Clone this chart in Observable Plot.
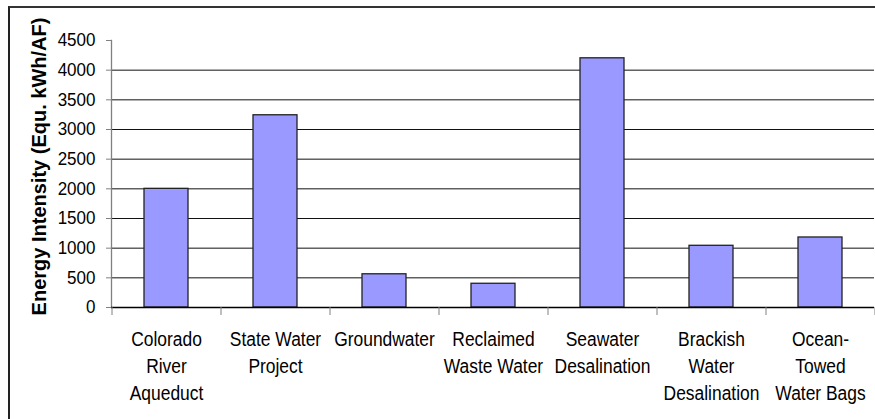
<!DOCTYPE html>
<html>
<head>
<meta charset="utf-8">
<script src="https://cdn.jsdelivr.net/npm/d3@7"></script>
<script src="https://cdn.jsdelivr.net/npm/@observablehq/plot@0.6"></script>
<style>
  html, body { margin: 0; padding: 0; background: #fff; }
  #wrap { position: relative; width: 875px; height: 419px; overflow: hidden; }
  #border { position: absolute; left: 8px; top: 6px; width: 900px; height: 450px;
            border-left: 2px solid #222; border-top: 2px solid #333; box-sizing: border-box; }
  #chart { position: absolute; left: 0; top: 0; }
</style>
</head>
<body>
<div id="wrap"><div id="border"></div><div id="chart"></div></div>
<script>
const categories = ["Colorado River Aqueduct", "State Water Project", "Groundwater", "Reclaimed Waste Water", "Seawater Desalination", "Brackish Water Desalination", "Ocean-Towed Water Bags"];
const tickLabels = ["Colorado\nRiver\nAqueduct", "State Water\nProject", "Groundwater", "Reclaimed\nWaste Water", "Seawater\nDesalination", "Brackish\nWater\nDesalination", "Ocean-\nTowed\nWater Bags"];
const values = [2000, 3240, 560, 400, 4200, 1040, 1180];
const yTicks = [0, 500, 1000, 1500, 2000, 2500, 3000, 3500, 4000, 4500];
const gridValues = [500, 1000, 1500, 2000, 2500, 3000, 3500, 4000];
const yLabel = "Energy Intensity (Equ. kWh/AF)";

const data = categories.map((c, i) => ({category: c, value: values[i]}));
const labelOf = new Map(categories.map((c, i) => [c, tickLabels[i]]));

const W = 875, H = 419, ML = 111, MR = 1, MT = 40, MB = 112;
const step = (W - ML - MR) / categories.length;
const font = "'Liberation Sans', Arial, sans-serif";

const svg = Plot.plot({
  width: W, height: H,
  marginLeft: ML, marginRight: MR, marginTop: MT, marginBottom: MB,
  style: {fontFamily: font, background: "white", overflow: "visible"},
  x: {domain: categories, paddingInner: 0.6, paddingOuter: 0.3, axis: null},
  y: {domain: [0, 4500], axis: null},
  marks: [
    Plot.ruleY(gridValues, {stroke: "#111", strokeWidth: 1}),
    Plot.barY(data, {x: "category", y: "value", fill: "#9999ff", stroke: "#222", strokeWidth: 1.3}),
    Plot.frame({anchor: "left", stroke: "#808080", strokeWidth: 1.3}),
    Plot.ruleY([0], {stroke: "#000", strokeWidth: 1.3}),
    Plot.axisY(yTicks, {tickSize: 5, tickPadding: 11, fontSize: 18.5, stroke: "#808080", fill: "#000", label: null, tickFormat: d => String(d)}),
    Plot.axisX(categories, {tickSize: 8, dx: -step / 2, text: null, stroke: "#808080", label: null}),
    Plot.axisX(categories.slice(-1), {tickSize: 8, dx: step / 2, text: null, stroke: "#808080", label: null}),
    Plot.axisX(categories, {tickSize: 0, tickPadding: 18.7, fontSize: 21, lineHeight: 1.3, fill: "#000", label: null, tickFormat: d => labelOf.get(d)}),
    Plot.text([yLabel], {frameAnchor: "left", dx: 39.5 - ML, dy: -7.5, rotate: -90, text: d => d, fontSize: 20, fontWeight: "bold", fill: "#000", textAnchor: "middle", lineAnchor: "middle", ariaLabel: "ylabel"})
  ]
});

const s = d3.select(svg);
s.selectAll('g[aria-label="x-axis tick label"] text').attr("transform", function() {
  return (this.getAttribute("transform") || "") + " scale(0.83,1)";
});
s.selectAll('g[aria-label="y-axis tick label"] text').attr("transform", function() {
  return (this.getAttribute("transform") || "") + " scale(0.92,1)";
});
s.selectAll('g[aria-label="ylabel"] text').attr("transform", function() {
  return (this.getAttribute("transform") || "") + " scale(1,0.83)";
});
s.style("background", "transparent");
document.getElementById("chart").appendChild(svg);
</script>
</body>
</html>
